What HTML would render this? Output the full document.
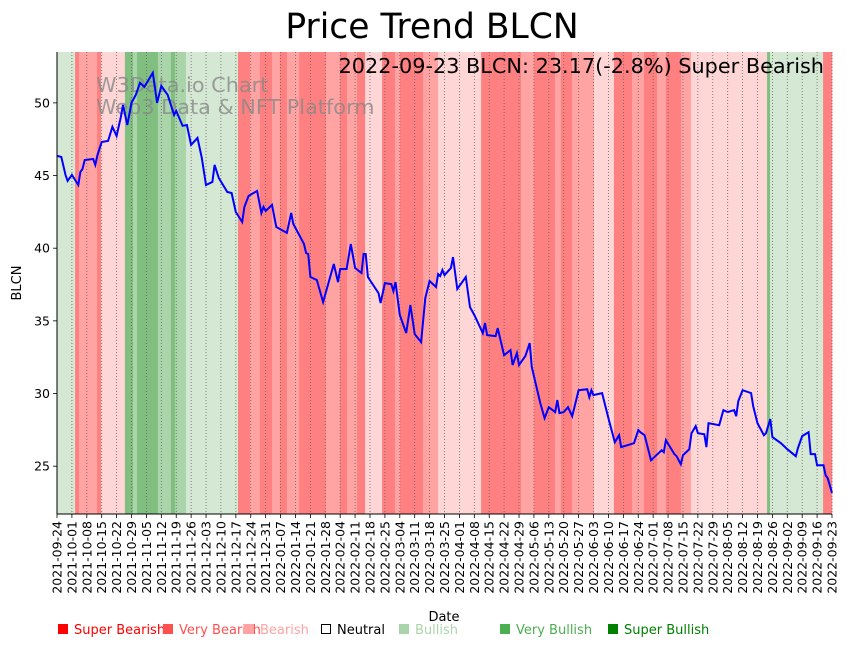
<!DOCTYPE html>
<html><head><meta charset="utf-8"><style>
body{margin:0;background:#fff;width:848px;height:646px;overflow:hidden;font-family:"Liberation Sans","DejaVu Sans",sans-serif}
</style></head><body>
<svg id="chart" width="848" height="646" xmlns="http://www.w3.org/2000/svg" font-family="DejaVu Sans, Liberation Sans, sans-serif">
<text x="432" y="38" font-size="34.5" text-anchor="middle">Price Trend BLCN</text>
<g id="bands"></g><g id="grid"></g>
<text x="96" y="92" font-size="20.8" fill="#888" fill-opacity="0.8">W3Data.io Chart</text>
<text x="96" y="114" font-size="20.8" fill="#888" fill-opacity="0.8">Web3 Data &amp; NFT Platform</text>
<path id="line" fill="none" stroke="#0000ff" stroke-width="2"/>
<text x="824" y="73" font-size="20.8" text-anchor="end">2022-09-23 BLCN: 23.17(-2.8%) Super Bearish</text>
<g id="axes"></g>
<text transform="translate(21,283) rotate(-90)" font-size="13" text-anchor="middle">BLCN</text>
<text x="444" y="621" font-size="13" text-anchor="middle">Date</text>
<g id="legend" font-size="13"></g>
</svg>
<script>
const bandStart=[0,8.5,10.3,18.8,20.7,31.9,35.7,37.6,47.4,53.5,55.4,60.6,85,90.7,95.3,101,104.7,108,113.7,126.3,132.9,136.2,140.9,144.7,152.7,158.8,161.1,171.9,179,199.2,217.9,224,233.9,236.7,241.9,243.3,252.2,261.6,270.1,275.7,281.8,286,293.1,297.8,333.5,334.9,359.8];
const bandLevel=[4,0,1,0,2,6,5,6,5,6,5,4,0,1,0,1,0,1,0,1,0,1,0,2,0,1,0,1,2,0,1,0,1,0,1,1,2,0,1,0,1,0,1,2,6,4,0];
const priceDay=[0,2,4,5,7,10,11,12,13,17,18,19,21,24,26,28,30,31,33,35,37,39,41,45,47,49,52,55,56,59,61,63,66,68,70,73,74,76,80,82,84,87,88,90,94,96,97,98,101,103,108,110,111,116,117,118,119,122,125,130,132,133,136,138,140,143,144,145,146,151,152,154,157,158,159,161,164,166,168,171,173,175,178,179,180,181,182,185,186,188,192,194,196,198,200,201,202,206,207,210,213,214,216,217,220,222,223,227,229,231,234,235,236,238,240,242,245,249,250,251,252,256,259,262,264,265,271,273,274,276,279,284,285,286,290,291,293,294,297,298,300,301,304,305,306,311,313,315,318,319,320,322,326,327,329,332,333,335,336,340,343,347,348,350,353,354,356,357,360,361,362,364];
const priceVal=[46.35,46.28,45.04,44.63,45.04,44.35,45.25,45.45,46.07,46.14,45.73,46.42,47.31,47.38,48.35,47.73,49.04,49.86,48.48,50.0,50.55,51.38,51.10,52.07,50.0,51.17,50.55,49.17,49.45,48.42,48.48,47.11,47.59,46.21,44.35,44.56,45.73,44.83,43.87,43.80,42.49,41.80,42.84,43.60,43.94,42.42,42.84,42.56,42.98,41.46,41.05,42.42,41.67,40.29,39.67,39.60,38.02,37.81,36.29,38.91,37.67,38.57,38.57,40.29,38.64,38.29,39.60,39.60,38.02,36.91,36.23,37.60,37.53,37.05,37.67,35.40,34.16,36.09,34.09,33.54,36.57,37.74,37.33,38.22,38.09,38.50,38.15,38.64,39.39,37.19,38.02,35.95,35.40,34.78,34.16,34.85,34.02,33.95,34.50,32.64,32.99,31.96,32.78,31.96,32.58,33.47,31.82,29.34,28.31,29.06,28.72,29.55,28.65,28.72,29.06,28.44,30.23,30.30,29.75,30.23,29.89,30.03,28.31,26.65,27.13,26.31,26.58,27.48,27.34,27.13,25.41,26.10,25.96,26.79,25.83,25.69,25.14,25.76,26.17,27.27,27.76,27.27,27.20,26.31,27.96,27.82,28.86,28.72,28.86,28.44,29.48,30.23,30.03,29.13,27.96,27.13,27.27,28.24,27.00,26.58,26.17,25.69,26.24,27.07,27.34,25.83,25.83,25.07,25.07,24.38,24.17,23.17];
const yTicks=[25,30,35,40,45,50];
const levelColors=['#ff8080','#ffa3a3','#ffd6d6','#ffffff','#d5e8d4','#aad5aa','#80bf80'];
const legendLabels=['Super Bearish','Very Bearish','Bearish','Neutral','Bullish','Very Bullish','Super Bullish'];
const legendColors=['#ff0000','#ff5050','#ffa3a3','#000000','#aad5aa','#4caf50','#008000'];
const legendX=[57,162,243,320,398,499,607];

const NS='http://www.w3.org/2000/svg';
const X0=57,X1=832,Y0=52,Y1=514,DAYS=364,YMIN=21.71,YMAX=53.5;
const xs=d=>X0+d*(X1-X0)/DAYS;
const ys=v=>Y1-(v-YMIN)*(Y1-Y0)/(YMAX-YMIN);
function mk(tag,attrs,parent){const e=document.createElementNS(NS,tag);for(const k in attrs)e.setAttribute(k,attrs[k]);parent.appendChild(e);return e;}
const bands=document.getElementById('bands');
for(let i=0;i<bandStart.length;i++){
  const s=bandStart[i],e=i+1<bandStart.length?bandStart[i+1]:DAYS;
  const r=mk('rect',{x:xs(s),y:Y0,width:xs(e)-xs(s)+0.3,height:Y1-Y0,fill:levelColors[bandLevel[i]]},bands);
  
  
}
const grid=document.getElementById('grid'),axes=document.getElementById('axes');
const start=Date.UTC(2021,8,24);
for(let d=0;d<=DAYS;d+=7){
  const x=xs(d);
  mk('line',{x1:x,x2:x,y1:Y0,y2:Y1,stroke:'#666','stroke-width':0.8,'stroke-dasharray':'1,2'},grid);
  mk('line',{x1:x,x2:x,y1:Y1,y2:Y1+4,stroke:'#000','stroke-width':0.8},axes);
  const dt=new Date(start+d*86400000).toISOString().slice(0,10);
  const t=mk('text',{transform:`translate(${x+4.5},${Y1+7}) rotate(-90)`,'font-size':12.5,'text-anchor':'end'},axes);
  
  
  t.textContent=dt;
}
yTicks.forEach(v=>{
  const y=ys(v);
  mk('line',{x1:X0-4,x2:X0,y1:y,y2:y,stroke:'#000','stroke-width':0.8},axes);
  const t=mk('text',{x:X0-7,y:y+4.5,'font-size':12.5,'text-anchor':'end'},axes);
  
  
  t.textContent=v;
});
mk('line',{x1:X0,x2:X0,y1:Y0,y2:Y1,stroke:'#000','stroke-width':1},axes);
mk('line',{x1:X0,x2:X1,y1:Y1,y2:Y1,stroke:'#000','stroke-width':1},axes);
document.getElementById('line').setAttribute('d',priceDay.map((d,i)=>(i?'L':'M')+xs(d).toFixed(1)+','+ys(priceVal[i]).toFixed(1)).join(''));
const lg=document.getElementById('legend');
legendLabels.forEach((l,i)=>{
  const g=mk('g',{},lg);
  
  
  const c=legendColors[i];
  if(i===3) mk('rect',{x:legendX[i]+1.5,y:624.5,width:9,height:9,fill:'#fff',stroke:'#000','stroke-width':1},g);
  else mk('rect',{x:legendX[i]+1,y:624,width:10,height:10,fill:c},g);
  const t=mk('text',{x:legendX[i]+17,y:634,fill:c},g);
  t.textContent=l;
});
</script>
</body></html>
